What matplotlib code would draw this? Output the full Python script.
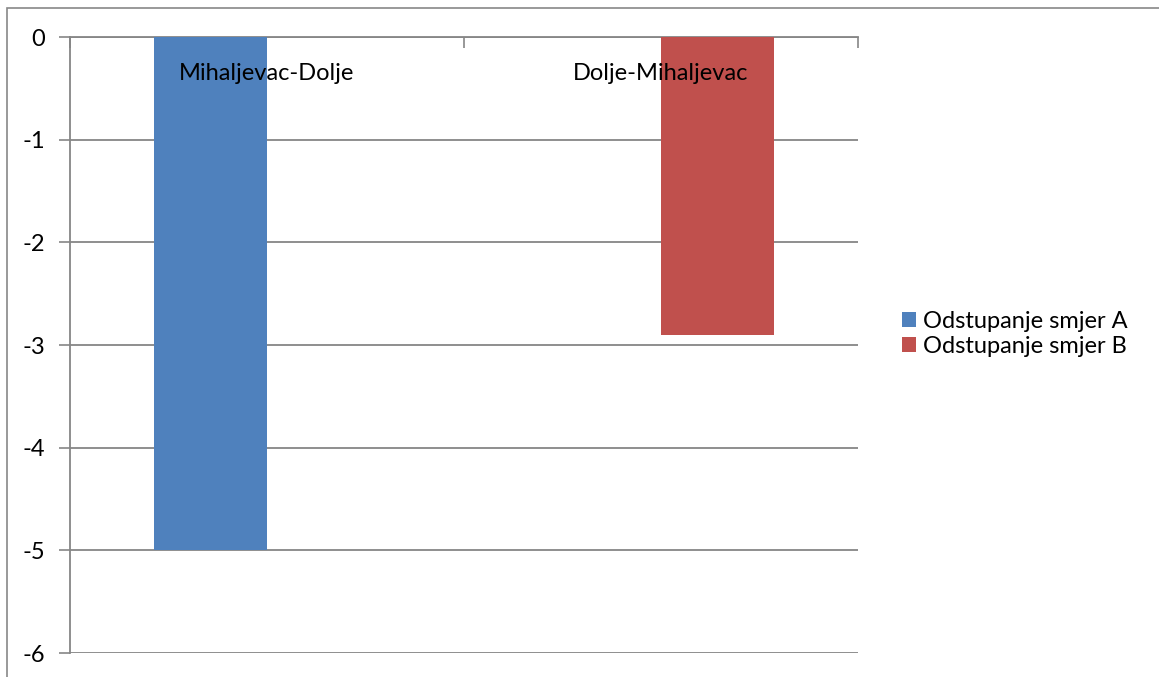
import numpy as np
import matplotlib.pyplot as plt
from matplotlib.patches import Rectangle

# Data
categories = ['Mihaljevac-Dolje', 'Dolje-Mihaljevac']
smjer_a = [-5, 0]
smjer_b = [0, -2.9]
series_names = ['Odstupanje smjer A', 'Odstupanje smjer B']
colors = ['#4F81BD', '#C0504D']

plt.rcParams['font.family'] = ['Lato', 'DejaVu Sans']
grid_c = '#868686'

fig = plt.figure(figsize=(11.59, 6.77), dpi=100)
ax = fig.add_axes([70 / 1159, 24 / 677, 788 / 1159, 616 / 677])

# outer chart frame (right and bottom run off the picture)
fig.patches.append(Rectangle((7 / 1159, -0.1), 1.2, (677 - 8) / 677 + 0.1,
                             transform=fig.transFigure, fill=False,
                             edgecolor='#888888', linewidth=1.2))

x = np.arange(len(categories))
w = 0.287
ax.bar(x - w / 2, smjer_a, w, color=colors[0], label=series_names[0], zorder=3)
ax.bar(x + w / 2, smjer_b, w, color=colors[1], label=series_names[1], zorder=3)

ax.set_xlim(-0.5, len(categories) - 0.5)
ax.set_ylim(-6, 0)
ax.set_yticks(range(-6, 1))
ax.set_yticklabels([str(v) for v in range(-6, 1)], fontsize=17)
ax.tick_params(axis='y', length=8, width=1.2, color=grid_c, pad=10)
ax.grid(axis='y', color=grid_c, linewidth=1.3, zorder=0)

# category axis sits at the top (y = 0) with boundary ticks pointing down
ax.set_xticks(np.arange(-0.5, len(categories), 1.0))
ax.set_xticklabels([])
ax.xaxis.tick_top()
ax.tick_params(axis='x', direction='in', length=8, width=1.2, color=grid_c)
for i, name in enumerate(categories):
    ax.text(i, -0.36, name, ha='center', va='center', fontsize=17, zorder=4)

for s in ['right', 'bottom']:
    ax.spines[s].set_visible(False)
ax.spines['top'].set_color(grid_c)
ax.spines['top'].set_linewidth(1.3)
ax.spines['left'].set_color(grid_c)
ax.spines['left'].set_linewidth(1.3)

ax.legend(loc='center left', bbox_to_anchor=(1.029, 0.518), frameon=False,
          fontsize=17, handlelength=0.6, handleheight=0.6, handletextpad=0.3,
          labelspacing=0.2)

fig.savefig('out.png', dpi=100)
